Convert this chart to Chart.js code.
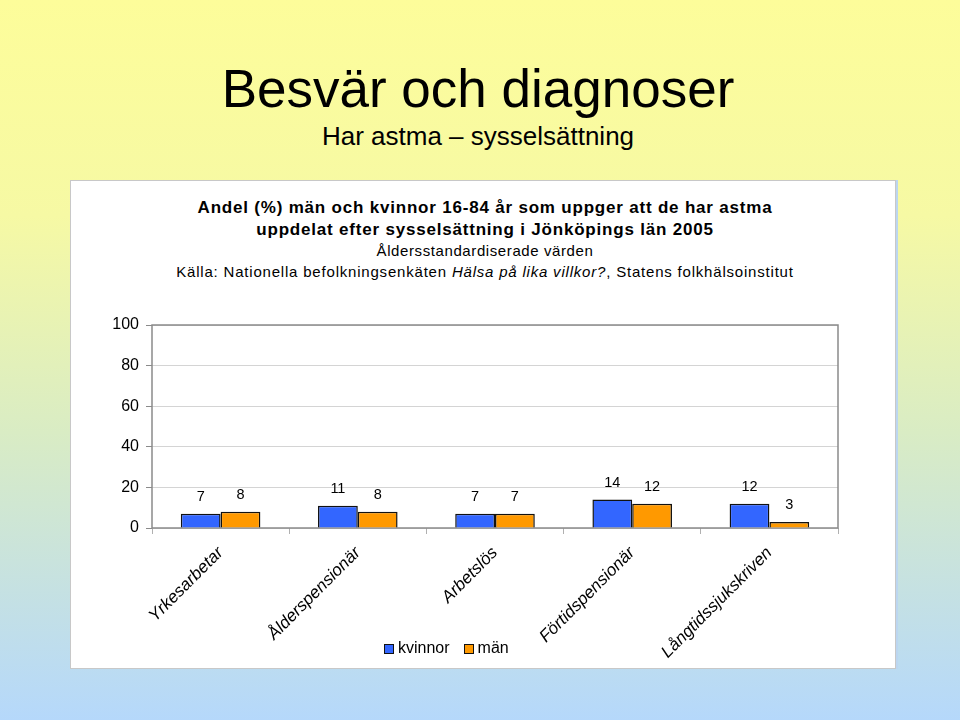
<!DOCTYPE html>
<html>
<head>
<meta charset="utf-8">
<script src="https://cdn.jsdelivr.net/npm/chart.js@4.4.0/dist/chart.umd.min.js"></script>
<style>
  html, body { margin: 0; padding: 0; }
  body {
    width: 960px; height: 720px; position: relative; overflow: hidden;
    background: linear-gradient(to bottom, #fdfd9a 0%, #f6f9a4 30%, #d9ecc4 60%, #b5d8fb 100%);
    font-family: "Liberation Sans", Arial, sans-serif;
  }
  #h1 { position: absolute; left: 0; width: 956px; top: 57px; text-align: center; font-size: 53px; color: #000; line-height: 64px; }
  #h2 { position: absolute; left: 0; width: 956px; top: 121px; text-align: center; font-size: 26px; color: #000; line-height: 30px; }
  #panel { position: absolute; left: 70px; top: 180px; width: 824px; height: 487px; background: #fff; border: 1px solid #c8c8c8; box-shadow: 2px 0 0 #bcd6f0; }
  .t { position: absolute; left: 0; width: 828px; text-align: center; color: #000; white-space: nowrap; }
  #t1 { top: 17px; font-size: 17px; font-weight: bold; line-height: 20px; letter-spacing: 0.8px; }
  #t2 { top: 39px; font-size: 17px; font-weight: bold; line-height: 20px; letter-spacing: 0.8px; }
  #t3 { top: 61px; font-size: 15px; line-height: 18px; letter-spacing: 0.6px; }
  #t4 { top: 82px; font-size: 15px; line-height: 18px; letter-spacing: 0.8px; }
  #wrap { position: absolute; left: 70px; top: 290px; width: 825px; height: 378px; }
  #legend { position: absolute; top: 638px; left: 384px; height: 20px; font-size: 16px; line-height: 20px; color: #000; white-space: nowrap; }
  #legend span.b { display: inline-block; width: 8px; height: 8px; border: 1.5px solid #111; vertical-align: -1px; margin-right: 4px; }
  #legend span.l { margin-right: 14px; }
</style>
</head>
<body>
<div id="h1">Besvär och diagnoser</div>
<div id="h2">Har astma – sysselsättning</div>
<div id="panel">
  <div class="t" id="t1">Andel (%) män och kvinnor 16-84 år som uppger att de har astma</div>
  <div class="t" id="t2">uppdelat efter sysselsättning i Jönköpings län 2005</div>
  <div class="t" id="t3">Åldersstandardiserade värden</div>
  <div class="t" id="t4">Källa: Nationella befolkningsenkäten <i>Hälsa på lika villkor?</i>, Statens folkhälsoinstitut</div>
</div>
<div id="wrap"><canvas id="c" width="825" height="378"></canvas></div>
<div id="legend"></div>
<script>
const categories = ["Yrkesarbetar", "Ålderspensionär", "Arbetslös", "Förtidspensionär", "Långtidssjukskriven"];
const kvinnor = [7, 11, 7, 14, 12];
const man = [8, 8, 7, 12, 3];
const yTicks = [0, 20, 40, 60, 80, 100];
const seriesNames = ["kvinnor", "män"];
const seriesColors = ["#3366ff", "#ff9900"];

const valueLabels = {
  id: 'valueLabels',
  afterDatasetsDraw(chart) {
    const ctx = chart.ctx;
    ctx.save();
    ctx.font = '14.5px "Liberation Sans", Arial, sans-serif';
    ctx.fillStyle = '#000';
    ctx.textAlign = 'center';
    ctx.textBaseline = 'middle';
    chart.data.datasets.forEach((ds, i) => {
      chart.getDatasetMeta(i).data.forEach((bar, j) => {
        ctx.fillText(String(ds.data[j]), bar.x, bar.y - 17);
      });
    });
    ctx.restore();
  }
};
const frame = {
  id: 'frame',
  beforeDatasetsDraw(chart) {
    const a = chart.chartArea, ctx = chart.ctx;
    ctx.save();
    ctx.strokeStyle = '#8a8a8a';
    ctx.lineWidth = 1.5;
    ctx.strokeRect(a.left, a.top, a.right - a.left, a.bottom - a.top);
    ctx.restore();
  }
};

const chart = new Chart(document.getElementById('c'), {
  type: 'bar',
  data: {
    labels: categories,
    datasets: [
      { label: seriesNames[0], data: kvinnor, backgroundColor: seriesColors[0], borderColor: '#111', borderWidth: 1.5, categoryPercentage: 0.58, barPercentage: 1.0 },
      { label: seriesNames[1], data: man, backgroundColor: seriesColors[1], borderColor: '#111', borderWidth: 1.5, categoryPercentage: 0.58, barPercentage: 1.0 }
    ]
  },
  options: {
    responsive: false,
    animation: false,
    layout: { padding: { top: 35, right: 57, left: 0, bottom: 0 } },
    plugins: {
      legend: { display: false },
      tooltip: { enabled: false },
      title: { display: false }
    },
    scales: {
      y: {
        min: 0, max: 100,
        afterFit(s) { s.width = 82; },
        afterBuildTicks(s) { s.ticks = yTicks.map(v => ({ value: v })); },
        ticks: { font: { size: 16, family: '"Liberation Sans", Arial, sans-serif' }, color: '#000', padding: 7 },
        grid: { color: '#d4d4d4', lineWidth: 1, tickColor: '#8a8a8a', tickLength: 6 },
        border: { display: false }
      },
      x: {
        afterFit(s) { s.height = 140; },
        ticks: { font: { size: 17, style: 'italic', family: '"Liberation Sans", Arial, sans-serif' }, color: '#000', minRotation: 45, maxRotation: 45, padding: 9 },
        grid: { offset: true, drawOnChartArea: false, tickColor: '#b0b0b0', tickLength: 6 },
        border: { display: false }
      }
    }
  },
  plugins: [valueLabels, frame]
});

const lg = document.getElementById('legend');
chart.data.datasets.forEach((ds) => {
  const b = document.createElement('span'); b.className = 'b'; b.style.background = ds.backgroundColor;
  const l = document.createElement('span'); l.className = 'l'; l.textContent = ds.label;
  lg.appendChild(b); lg.appendChild(l);
});
</script>
</body>
</html>
